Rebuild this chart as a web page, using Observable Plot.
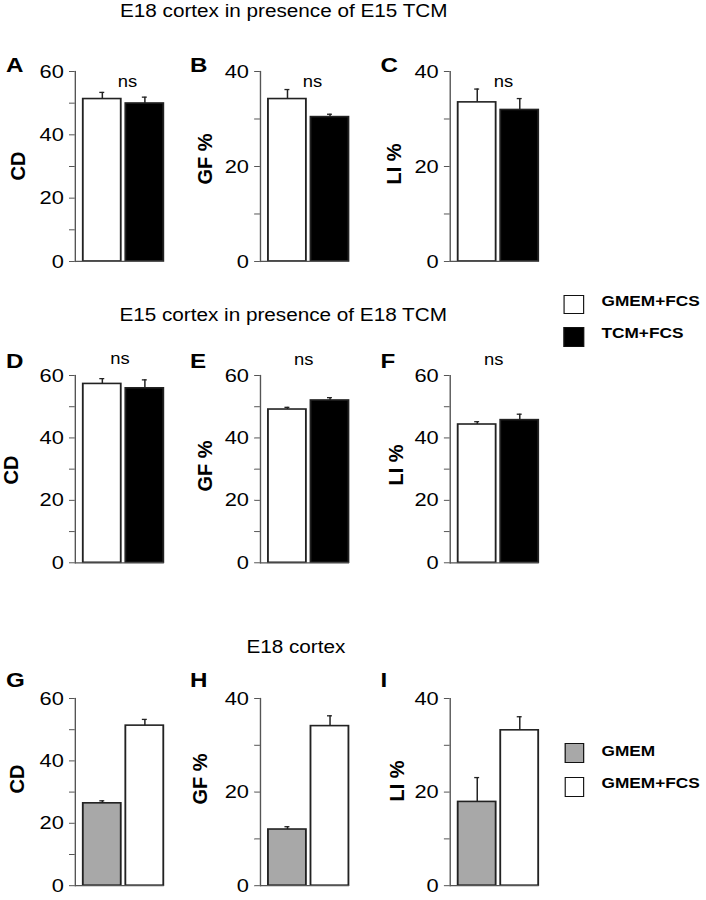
<!DOCTYPE html>
<html>
<head>
<meta charset="utf-8">
<script src="https://cdn.jsdelivr.net/npm/d3@7"></script>
<script src="https://cdn.jsdelivr.net/npm/@observablehq/plot@0.6"></script>
<style>
  html, body { margin: 0; padding: 0; background: #fff; }
  #fig {
    position: relative; width: 614px; height: 900px;
    transform: scaleX(1.15); transform-origin: 0 0;
    font-family: "Liberation Sans", Arial, Helvetica, sans-serif; color: #000;
  }
  #fig .t { position: absolute; white-space: nowrap; line-height: 1; }
  #fig .p { position: absolute; }
  #fig .sw { position: absolute; box-sizing: border-box; border: 1.5px solid #111; }
</style>
</head>
<body>
<div id="fig"></div>
<script>
// ---------------- data ----------------
const rowTitles = ["E18 cortex in presence of E15 TCM", "E15 cortex in presence of E18 TCM", "E18 cortex"];
const panelLetters = ["A", "B", "C", "D", "E", "F", "G", "H", "I"];
const measures = ["CD", "GF %", "LI %"];
const groupsTCM = ["GMEM+FCS", "TCM+FCS"];
const colorsTCM = ["#ffffff", "#000000"];
const groupsFCS = ["GMEM", "GMEM+FCS"];
const colorsFCS = ["#a8a8a8", "#ffffff"];
const yMaxRow1 = [60, 40, 40];
const yMaxRow2 = [60, 60, 60];
const yMaxRow3 = [60, 40, 40];
const sigLabel = "ns";

// E18 cortex + E15 TCM
const meanA = [51.3, 49.9]; const semA = [2.1, 2.0];
const meanB = [34.2, 30.4]; const semB = [2.0, 0.6];
const meanC = [33.5, 31.9]; const semC = [2.8, 2.4];
// E15 cortex + E18 TCM
const meanD = [57.3, 55.9]; const semD = [1.7, 2.7];
const meanE = [49.1, 52.0]; const semE = [0.7, 0.9];
const meanF = [44.3, 45.7]; const semF = [0.9, 1.9];
// E18 cortex, GMEM vs GMEM+FCS
const meanG = [26.4, 51.3]; const semG = [0.8, 2.0];
const meanH = [12.0, 34.1]; const semH = [0.6, 2.2];
const meanI = [17.9, 33.2]; const semI = [5.2, 2.9];

// ---------------- layout (final pixel coords, divided by S) ----------------
const S = 1.15;
const FONT = '"Liberation Sans", Arial, Helvetica, sans-serif';
const fig = document.getElementById("fig");

const colAxisX = [75, 260, 450];
const rowAxis = [[71, 261], [375, 562.3], [698.3, 885.5]];
const bw = 39 / S, gap = 4.5 / S, start = 6.6 / S, capW = 6 / S;
const step = bw + gap;
const PI = gap / step, PO = start / (2 * step);
const P = 2 * bw + gap + start;
const ML = 50, MR = 2, MT = 10, MB = 14;

function panel(groups, colors, mean, sem, yMax, plotH) {
  const data = groups.map((g, i) => ({group: g, value: mean[i], hi: mean[i] + sem[i]}));
  const capInset = (bw - capW) / 2;
  return Plot.plot({
    width: ML + P + MR,
    height: MT + plotH + MB,
    marginLeft: ML, marginRight: MR, marginTop: MT, marginBottom: MB,
    style: {fontFamily: FONT, fontSize: "19px", background: "transparent", overflow: "visible", color: "#000"},
    x: {domain: groups, paddingInner: PI, paddingOuter: PO, align: 1, axis: null},
    y: {domain: [0, yMax]},
    color: {domain: groups, range: colors},
    marks: [
      Plot.barY(data, {x: "group", y: "value", fill: "group", stroke: "#222", strokeWidth: 1.6}),
      Plot.ruleX(data, {x: "group", y1: "value", y2: "hi", stroke: "#222", strokeWidth: 1.3}),
      Plot.tickY(data, {x: "group", y: "hi", stroke: "#222", strokeWidth: 1.3, insetLeft: capInset, insetRight: capInset}),
      Plot.ruleY([0], {stroke: "#555", strokeWidth: 1.2}),
      Plot.frame({anchor: "left", stroke: "#555", strokeWidth: 1.2}),
      Plot.axisY({ticks: d3.range(0, yMax + 1, 10), tickSize: 5, tickPadding: 5, stroke: "#555", label: null,
                  tickFormat: d => (d % 20 === 0 ? String(d) : "")})
    ]
  });
}

function addText(str, x, baseline, size, weight, anchor) {
  const d = document.createElement("div");
  d.className = "t";
  d.textContent = str;
  d.style.fontSize = size + "px";
  d.style.fontWeight = weight;
  d.style.left = (x / S) + "px";
  d.style.top = (baseline - 0.8465 * size) + "px";
  if (anchor === "middle") d.style.transform = "translateX(-50%)";
  fig.appendChild(d);
}
function addVText(str, cx, cy, size) {
  const d = document.createElement("div");
  d.className = "t";
  d.textContent = str;
  d.style.fontSize = size + "px";
  d.style.fontWeight = "bold";
  d.style.left = (cx / S) + "px";
  d.style.top = cy + "px";
  d.style.transformOrigin = "0 0";
  d.style.transform = `scaleX(${1 / S}) rotate(-90deg) translate(-50%, -50%)`;
  fig.appendChild(d);
}
function addSwatch(color, x, y, w, h) {
  const d = document.createElement("div");
  d.className = "sw";
  d.style.left = (x / S) + "px";
  d.style.top = y + "px";
  d.style.width = (w / S) + "px";
  d.style.height = h + "px";
  d.style.background = color;
  fig.appendChild(d);
}

const panels = [
  [groupsTCM, colorsTCM, meanA, semA, yMaxRow1[0]],
  [groupsTCM, colorsTCM, meanB, semB, yMaxRow1[1]],
  [groupsTCM, colorsTCM, meanC, semC, yMaxRow1[2]],
  [groupsTCM, colorsTCM, meanD, semD, yMaxRow2[0]],
  [groupsTCM, colorsTCM, meanE, semE, yMaxRow2[1]],
  [groupsTCM, colorsTCM, meanF, semF, yMaxRow2[2]],
  [groupsFCS, colorsFCS, meanG, semG, yMaxRow3[0]],
  [groupsFCS, colorsFCS, meanH, semH, yMaxRow3[1]],
  [groupsFCS, colorsFCS, meanI, semI, yMaxRow3[2]]
];

panels.forEach((p, k) => {
  const r = Math.floor(k / 3), c = k % 3;
  const [top, bottom] = rowAxis[r];
  const svg = panel(p[0], p[1], p[2], p[3], p[4], bottom - top);
  const wrap = document.createElement("div");
  wrap.className = "p";
  wrap.style.left = (colAxisX[c] / S - ML) + "px";
  wrap.style.top = (top - MT) + "px";
  wrap.appendChild(svg);
  fig.appendChild(wrap);
});

// Row titles
addText(rowTitles[0], 120, 17.3, 18, "normal");
addText(rowTitles[1], 119.4, 321.7, 18, "normal");
addText(rowTitles[2], 246.4, 653.3, 18, "normal");

// Panel letters
const letterX = [6, 190, 380.5];
const letterBase = [71.5, 367.5, 687];
panelLetters.forEach((L, k) => addText(L, letterX[k % 3], letterBase[Math.floor(k / 3)], 21, "bold"));

// Y-axis labels (centre x, centre y)
const yLabPos = [
  [[18.3, 166], [204.2, 158.5], [394.7, 163.5]],
  [[11.7, 470], [205, 466], [395.3, 465]],
  [[16.7, 779], [200, 779], [396.7, 781]]
];
yLabPos.forEach(row => row.forEach((pos, c) => addVText(measures[c], pos[0], pos[1], 20)));

// significance labels
[[127.5, 87.3], [312.5, 87.3], [503.5, 87.3], [120, 365], [303.8, 366], [493.8, 366]]
  .forEach(([x, b]) => addText(sigLabel, x, b, 16, "normal", "middle"));

// Legends
addSwatch(colorsTCM[0], 564, 295, 20, 19);
addSwatch(colorsTCM[1], 564, 327, 20, 19.5);
addText(groupsTCM[0], 601.5, 305.7, 15, "bold");
addText(groupsTCM[1], 601.5, 337.3, 15, "bold");

addSwatch(colorsFCS[0], 565, 743, 19.5, 19.5);
addSwatch(colorsFCS[1], 565, 777, 19.5, 19.5);
addText(groupsFCS[0], 601.5, 756, 15, "bold");
addText(groupsFCS[1], 601.5, 787.3, 15, "bold");
</script>
</body>
</html>
